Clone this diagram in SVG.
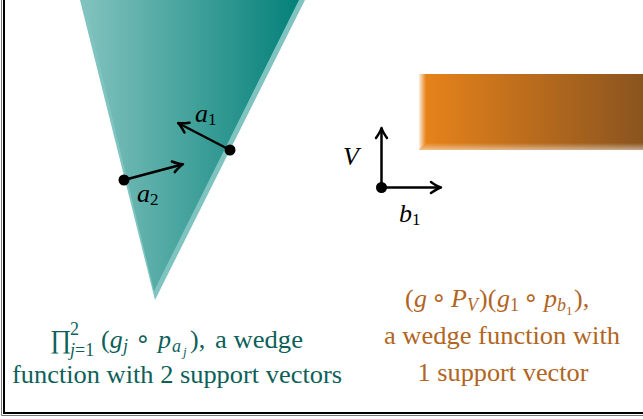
<svg xmlns="http://www.w3.org/2000/svg" width="643" height="419" viewBox="0 0 643 419">
<style>
text { font-family: 'Liberation Serif', 'Times New Roman', 'DejaVu Serif', serif; }
.cap { font-size: 26px; }
.teal { fill: #0e5f5a; }
.brown { fill: #b1651f; }
.i { font-style: italic; }
.s { font-size: 18px; }
.ss { font-size: 13px; }
.op { font-family: 'DejaVu Sans', sans-serif; font-size: 25px; }
.lbl { font-size: 26px; font-style: italic; fill: #000; }
.sub { font-style: normal; font-size: 17px; }
.vec { stroke: #000; stroke-width: 2.5; fill: none; marker-end: url(#arr); }
</style>
<defs>
<linearGradient id="gTeal" x1="80" y1="0" x2="305" y2="0" gradientUnits="userSpaceOnUse">
<stop offset="0" stop-color="#84c3bf"/>
<stop offset="1" stop-color="#007f77"/>
</linearGradient>
<linearGradient id="gOrange" x1="419" y1="0" x2="643" y2="0" gradientUnits="userSpaceOnUse">
<stop offset="0" stop-color="#e9841a"/>
<stop offset="1" stop-color="#8a541f"/>
</linearGradient>
<linearGradient id="gLeftBevel" x1="419" y1="0" x2="426" y2="0" gradientUnits="userSpaceOnUse">
<stop offset="0" stop-color="#ffffff" stop-opacity="0.85"/>
<stop offset="1" stop-color="#ffffff" stop-opacity="0"/>
</linearGradient>
<linearGradient id="gBottomBevel" x1="0" y1="143" x2="0" y2="150" gradientUnits="userSpaceOnUse">
<stop offset="0" stop-color="#ffffff" stop-opacity="0"/>
<stop offset="0.5" stop-color="#ffffff" stop-opacity="0.25"/>
<stop offset="1" stop-color="#ffffff" stop-opacity="0.5"/>
</linearGradient>
<marker id="arr" markerUnits="userSpaceOnUse" orient="auto" refX="0" refY="0" markerWidth="20" markerHeight="20" overflow="visible">
<path d="M-9,-5.5 Q-3,-1.2 1,0 Q-3,1.2 -9,5.5" fill="none" stroke="#000" stroke-width="2.5" stroke-linecap="round" stroke-linejoin="round"/>
</marker>
</defs>

<g id="frame">
<rect x="4" y="-10" width="660" height="423" fill="none" stroke="#000" stroke-width="2"/>
<line x1="1.5" y1="0" x2="1.5" y2="415.5" stroke="#777" stroke-width="1"/>
<line x1="1.5" y1="415.5" x2="643" y2="415.5" stroke="#777" stroke-width="1"/>
</g>

<g id="wedge">
<polygon points="80,0 305,0 155,300" fill="#7fc4c0"/>
<polygon points="84,0 299,0 154,291" fill="url(#gTeal)"/>
</g>

<g id="slab">
<rect x="419" y="74" width="230" height="76" fill="url(#gOrange)"/>
<polygon points="419,74 426,74 426,143 419,150" fill="url(#gLeftBevel)"/>
<polygon points="426,143 643,143 643,150 419,150" fill="url(#gBottomBevel)"/>
</g>

<g id="connectors">
<line class="vec" x1="230" y1="150" x2="179" y2="123.5"/>
<line class="vec" x1="124" y1="180" x2="182" y2="164.5"/>
<line class="vec" x1="381.5" y1="187.5" x2="381.5" y2="129"/>
<line class="vec" x1="381.5" y1="187.5" x2="440" y2="187.5"/>
</g>

<g id="points">
<circle cx="230" cy="150" r="5.5" fill="#000"/>
<circle cx="124" cy="180" r="5.5" fill="#000"/>
<circle cx="381.5" cy="187.5" r="5.5" fill="#000"/>
</g>

<g id="labels">
<text class="lbl" x="195" y="122">a<tspan class="sub" dy="3">1</tspan></text>
<text class="lbl" x="137" y="202">a<tspan class="sub" dy="3">2</tspan></text>
<text class="lbl" x="343" y="165">V</text>
<text class="lbl" x="399" y="222">b<tspan class="sub" dy="3">1</tspan></text>
</g>

<g id="caption-left" class="cap teal">
<text y="348"><tspan x="50" font-size="26">∏</tspan><tspan class="s" x="70" y="335">2</tspan><tspan class="s i" x="70" y="356">j</tspan><tspan class="s">=1</tspan><tspan x="101" y="348">(</tspan><tspan class="i">g</tspan><tspan class="s i" x="123" y="352">j</tspan><tspan class="op" x="135" y="347">∘</tspan><tspan class="i" x="158" y="348">p</tspan><tspan class="s i" x="172" y="352">a</tspan><tspan class="ss i" x="183" y="356">j</tspan><tspan x="190" y="348">),</tspan><tspan x="215" textLength="88" lengthAdjust="spacingAndGlyphs">a wedge</tspan></text>
<text x="177" y="383" text-anchor="middle" textLength="330" lengthAdjust="spacingAndGlyphs">function with 2 support vectors</text>
</g>

<g id="caption-right" class="cap brown">
<text y="307"><tspan x="405">(</tspan><tspan class="i" x="414">g</tspan><tspan class="op" x="431" y="306">∘</tspan><tspan class="i" x="451" y="307">P</tspan><tspan class="s i" x="467" y="311">V</tspan><tspan x="479" y="307">)(</tspan><tspan class="i" x="497">g</tspan><tspan class="s" x="510" y="311">1</tspan><tspan class="op" x="523" y="306">∘</tspan><tspan class="i" x="544" y="307">p</tspan><tspan class="s i" x="557" y="311">b</tspan><tspan class="ss" x="566" y="315">1</tspan><tspan x="574" y="307">),</tspan></text>
<text x="502" y="344" text-anchor="middle" textLength="236" lengthAdjust="spacingAndGlyphs">a wedge function with</text>
<text x="503" y="381" text-anchor="middle" textLength="171" lengthAdjust="spacingAndGlyphs">1 support vector</text>
</g>
</svg>
